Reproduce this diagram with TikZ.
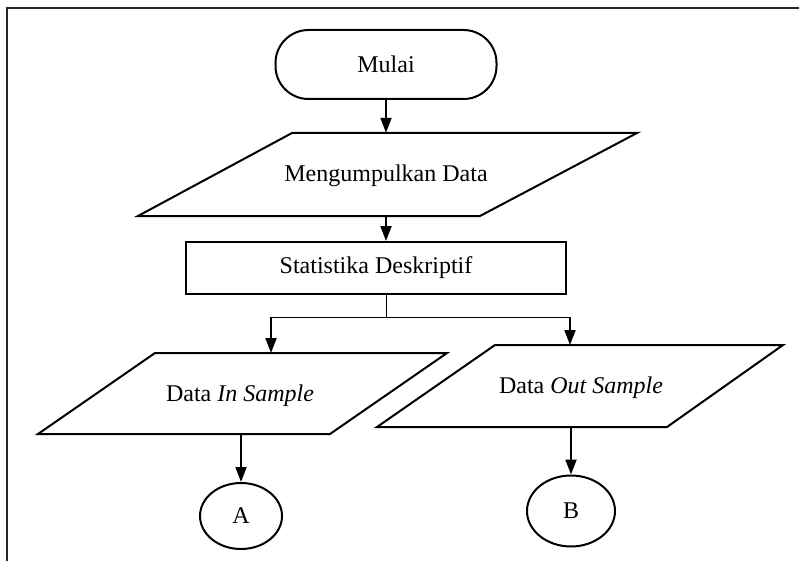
\documentclass[tikz,border=0pt]{standalone}
\usepackage{fontspec}
\setmainfont{Liberation Serif}
\usetikzlibrary{arrows.meta,shapes.geometric,shapes.misc}

\tikzset{
  frameline/.style={line width=1.8pt, draw=black!85},
  shapeline/.style={line width=2pt, draw=black},
  terminal/.style={shapeline, rectangle, rounded corners=33pt,
    minimum width=221pt, minimum height=69pt, inner sep=0pt},
  process/.style={shapeline, rectangle, minimum width=380pt,
    minimum height=52pt, inner sep=0pt},
  connector/.style={shapeline, ellipse, inner sep=0pt},
  label/.style={inner sep=0pt},
  flow/.style={line width=2pt, -{Triangle[length=15pt,width=11pt]}},
  branch/.style={line width=1pt},
}

\begin{document}
\begin{tikzpicture}[x=1pt, y=-1pt,
  every node/.style={font=\fontsize{24}{28}\selectfont}]
  \useasboundingbox (0,0) rectangle (799,561);

  % outer frame (top and left sides)
  \draw[frameline] (7,561) -- (7,8) -- (799,8);

  % start terminal
  \node[terminal] (start) at (386,64.5) {Mulai};

  % data collection (input/output)
  \draw[shapeline] (292,133) -- (637,133) -- (480,216) -- (138,216) -- cycle;
  \node[label, minimum height=83pt] (collect) at (386,174.5) {};
  \node[label] (collectText) at (386,176) {Mengumpulkan Data};

  % descriptive statistics process
  \node[process] (stat) at (376,268) {Statistika Deskriptif};

  % in-sample and out-sample data
  \draw[shapeline] (155,353) -- (447,353) -- (330,434) -- (38,434) -- cycle;
  \node[label] (inData) at (240,396) {Data \textit{In Sample}};
  \draw[shapeline] (495,345) -- (783,345) -- (667,427) -- (377,427) -- cycle;
  \node[label] (outData) at (581,388) {Data \textit{Out Sample}};

  % off-page connectors
  \node[connector, minimum width=82pt, minimum height=66pt] (A) at (241,516) {A};
  \node[connector, minimum width=88pt, minimum height=71pt] (B) at (571,511) {B};

  % anchor points on the drawn outlines
  \coordinate (split) at (386,317);
  \coordinate (inTop) at (271,353);
  \coordinate (outTop) at (570,345);
  \coordinate (inBottom) at (241,434);
  \coordinate (outBottom) at (571,427);

  % connectors
  \draw[flow] (start.south) -- (collect.north);
  \draw[flow] (collect.south) -- (collect.south |- stat.north);
  \draw[branch] (split |- stat.south) -- (split);
  \draw[branch] (inTop |- split) -- (outTop |- split);
  \draw[flow] (inTop |- split) -- (inTop);
  \draw[flow] (outTop |- split) -- (outTop);
  \draw[flow] (inBottom) -- (A.north);
  \draw[flow] (outBottom) -- (B.north);
\end{tikzpicture}
\end{document}
